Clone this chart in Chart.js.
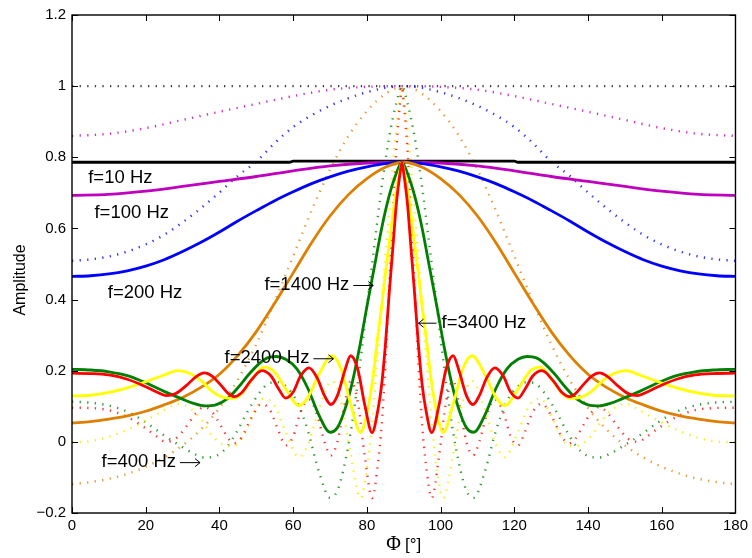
<!DOCTYPE html>
<html>
<head>
<meta charset="utf-8">
<script src="https://cdn.jsdelivr.net/npm/chart.js@4/dist/chart.umd.min.js"></script>
<style>
  html, body { margin: 0; padding: 0; background: #fff; }
</style>
</head>
<body>
<canvas id="chart" width="752" height="558"></canvas>
<script>
// Amplitude vs angle Phi, solid = one model, dotted = the other, per frequency

var xTicks = [0, 20, 40, 60, 80, 100, 120, 140, 160, 180];
var xTickLabels = ['0', '20', '40', '60', '80', '100', '120', '140', '160', '180'];
var yTicks = [-0.2, 0, 0.2, 0.4, 0.6, 0.8, 1, 1.2];
var yTickLabels = ['\u22120.2', '0', '0.2', '0.4', '0.6', '0.8', '1', '1.2'];

// f = 10 Hz
var x10 = [0, 59, 60, 120, 121, 180];
var solid10 = [0.786, 0.786, 0.789, 0.789, 0.786, 0.786];
var dotted10 = [1, 1, 1, 1, 1, 1];

// f = 100 Hz
var x100 = [0, 10, 20, 30, 40, 50, 60, 70, 80, 90, 100, 110, 120, 130, 140, 150, 160, 170, 180];
var solid100 = [0.693, 0.696, 0.705, 0.718, 0.732, 0.746, 0.762, 0.776, 0.784, 0.786,
                0.784, 0.776, 0.762, 0.746, 0.732, 0.718, 0.705, 0.696, 0.693];
var dotted100 = [0.86, 0.866, 0.882, 0.905, 0.928, 0.95, 0.972, 0.99, 0.998, 1.0,
                 0.998, 0.99, 0.972, 0.95, 0.928, 0.905, 0.882, 0.866, 0.86];

// f = 200 Hz
var x200 = [0, 5, 10, 15, 20, 25, 30, 35, 40, 45, 50, 55, 60, 65, 70, 75, 80, 85, 90,
            95, 100, 105, 110, 115, 120, 125, 130, 135, 140, 145, 150, 155, 160, 165, 170, 175, 180];
var solid200 = [0.465, 0.467, 0.472, 0.481, 0.494, 0.512, 0.535, 0.561, 0.59, 0.621, 0.65, 0.678, 0.703, 0.726, 0.745, 0.761, 0.773, 0.782, 0.786,
                0.782, 0.773, 0.761, 0.745, 0.726, 0.703, 0.678, 0.65, 0.621, 0.59, 0.561, 0.535, 0.512, 0.494, 0.481, 0.472, 0.467, 0.465];
var dotted200 = [0.509, 0.513, 0.521, 0.535, 0.555, 0.582, 0.617, 0.657, 0.701, 0.748, 0.788, 0.84, 0.885, 0.918, 0.945, 0.966, 0.983, 0.995, 1.0,
                 0.995, 0.983, 0.966, 0.945, 0.918, 0.885, 0.84, 0.788, 0.748, 0.701, 0.657, 0.617, 0.582, 0.555, 0.535, 0.521, 0.513, 0.509];

// f = 400 Hz
var x400 = x200.slice();
var solid400 = [0.053, 0.057, 0.064, 0.073, 0.086, 0.104, 0.125, 0.153, 0.19, 0.243, 0.31, 0.39, 0.475, 0.56, 0.635, 0.695, 0.74, 0.772, 0.786,
                0.772, 0.74, 0.695, 0.635, 0.56, 0.475, 0.39, 0.31, 0.243, 0.19, 0.153, 0.125, 0.104, 0.086, 0.073, 0.064, 0.057, 0.053];
var dotted400 = [-0.119, -0.113, -0.104, -0.09, -0.07, -0.044, -0.01, 0.035, 0.095, 0.175, 0.275, 0.395, 0.522, 0.65, 0.765, 0.86, 0.93, 0.978, 1.0,
                 0.978, 0.93, 0.86, 0.765, 0.65, 0.522, 0.395, 0.275, 0.175, 0.095, 0.035, -0.01, -0.044, -0.07, -0.09, -0.104, -0.113, -0.119];

// f = 1400 Hz
var x1400 = [0, 5, 10, 15, 20, 25, 30, 33, 36, 39, 42, 45, 48, 51, 53, 55.5, 58, 61, 64, 67, 70, 72, 74, 76, 78, 80, 82, 84, 86, 88, 89.5,
             91, 93, 95, 97, 99, 101, 103, 105, 107, 109, 112, 115, 118, 121, 123.5, 126, 128, 131, 134, 137, 140, 143, 146, 149, 154, 159, 164, 169, 174, 180];
var solid1400 = [0.204, 0.202, 0.197, 0.186, 0.166, 0.142, 0.12, 0.108, 0.101, 0.104, 0.12, 0.152, 0.19, 0.222, 0.236, 0.24, 0.232, 0.205, 0.15, 0.075, 0.027, 0.04, 0.09, 0.165, 0.265, 0.38, 0.49, 0.6, 0.69, 0.755, 0.786,
                 0.755, 0.69, 0.6, 0.49, 0.38, 0.265, 0.165, 0.09, 0.04, 0.027, 0.075, 0.15, 0.205, 0.232, 0.24, 0.236, 0.222, 0.19, 0.152, 0.12, 0.104, 0.101, 0.108, 0.12, 0.142, 0.166, 0.186, 0.197, 0.202, 0.204];
var dotted1400 = [0.113, 0.11, 0.102, 0.085, 0.055, 0.018, -0.015, -0.033, -0.044, -0.04, -0.015, 0.034, 0.092, 0.14, 0.162, 0.168, 0.156, 0.114, 0.031, -0.084, -0.157, -0.137, -0.061, 0.053, 0.206, 0.381, 0.549, 0.716, 0.854, 0.953, 1.0,
                  0.953, 0.854, 0.716, 0.549, 0.381, 0.206, 0.053, -0.061, -0.137, -0.157, -0.084, 0.031, 0.114, 0.156, 0.168, 0.162, 0.14, 0.092, 0.034, -0.015, -0.04, -0.044, -0.033, -0.015, 0.018, 0.055, 0.085, 0.102, 0.11, 0.113];

// f = 2400 Hz
var x2400 = [0, 5, 10, 15, 20, 25, 28.7, 32, 35, 38, 41, 43.6, 46, 49, 52, 55, 58, 61.6, 64, 67, 70.5, 73, 75.5, 78.3, 80, 81.5, 83, 84, 85, 86, 87, 88, 89, 89.5,
             90, 91, 92, 93, 94, 95, 96, 97.5, 99, 100.7, 103.5, 106, 108.5, 112, 115, 117.4, 121, 124, 127, 130, 133, 135.4, 138, 141, 144, 147, 150.3, 154, 159, 164, 169, 174, 180];
var solid2400 = [0.129, 0.131, 0.139, 0.152, 0.169, 0.188, 0.2, 0.192, 0.172, 0.142, 0.125, 0.122, 0.135, 0.178, 0.21, 0.196, 0.148, 0.102, 0.125, 0.19, 0.242, 0.205, 0.11, 0.026, 0.08, 0.17, 0.3, 0.38, 0.47, 0.55, 0.635, 0.71, 0.765, 0.786,
                 0.765, 0.71, 0.635, 0.55, 0.47, 0.38, 0.3, 0.17, 0.08, 0.026, 0.11, 0.205, 0.242, 0.19, 0.125, 0.102, 0.148, 0.196, 0.21, 0.178, 0.135, 0.122, 0.125, 0.142, 0.172, 0.192, 0.2, 0.188, 0.169, 0.152, 0.139, 0.131, 0.129];
var dotted2400 = [-0.001, 0.002, 0.014, 0.034, 0.06, 0.089, 0.107, 0.095, 0.064, 0.018, -0.008, -0.012, 0.008, 0.073, 0.122, 0.101, 0.028, -0.043, -0.008, 0.092, 0.171, 0.114, -0.03, -0.158, -0.076, 0.061, 0.259, 0.381, 0.518, 0.64, 0.77, 0.884, 0.968, 1.0,
                  0.968, 0.884, 0.77, 0.64, 0.518, 0.381, 0.259, 0.061, -0.076, -0.158, -0.03, 0.114, 0.171, 0.092, -0.008, -0.043, 0.028, 0.101, 0.122, 0.073, 0.008, -0.012, -0.008, 0.018, 0.064, 0.095, 0.107, 0.089, 0.06, 0.034, 0.014, 0.002, -0.001];

// f = 3400 Hz
var x3400 = [0, 5, 10, 15, 20, 23, 25.5, 28, 31, 33.5, 35.9, 38, 40.5, 42.5, 44, 46, 48.5, 51.5, 54, 56, 58, 60, 62, 64.3, 66.5, 68.5, 70.2, 72, 74, 75.6, 77.5, 79.5, 81.4, 83, 84, 85, 86, 87, 88, 89, 89.5,
             90, 91, 92, 93, 94, 95, 96, 97.6, 99.5, 101.5, 103.4, 105, 107, 108.8, 110.5, 112.5, 114.7, 117, 119, 121, 123, 125, 127.5, 130.5, 133, 135, 136.5, 138.5, 141, 143.1, 145.5, 148, 151, 153.5, 156, 159, 164, 169, 174, 180];
var solid3400 = [0.193, 0.192, 0.188, 0.176, 0.155, 0.14, 0.13, 0.135, 0.158, 0.182, 0.194, 0.185, 0.158, 0.135, 0.127, 0.138, 0.172, 0.2, 0.185, 0.15, 0.123, 0.14, 0.185, 0.208, 0.18, 0.13, 0.105, 0.13, 0.2, 0.242, 0.205, 0.1, 0.026, 0.09, 0.16, 0.27, 0.41, 0.54, 0.67, 0.755, 0.786,
                 0.755, 0.67, 0.54, 0.41, 0.27, 0.16, 0.09, 0.026, 0.1, 0.205, 0.242, 0.2, 0.13, 0.105, 0.13, 0.18, 0.208, 0.185, 0.14, 0.123, 0.15, 0.185, 0.2, 0.172, 0.138, 0.127, 0.135, 0.158, 0.185, 0.194, 0.182, 0.158, 0.135, 0.13, 0.14, 0.155, 0.176, 0.188, 0.192, 0.193];
var dotted3400 = [0.096, 0.095, 0.089, 0.07, 0.038, 0.015, 0.0, 0.008, 0.043, 0.079, 0.098, 0.084, 0.043, 0.008, -0.004, 0.012, 0.064, 0.107, 0.084, 0.031, -0.01, 0.015, 0.084, 0.119, 0.076, 0.0, -0.038, 0.0, 0.107, 0.171, 0.114, -0.046, -0.158, -0.061, 0.046, 0.213, 0.427, 0.625, 0.823, 0.953, 1.0,
                  0.953, 0.823, 0.625, 0.427, 0.213, 0.046, -0.061, -0.158, -0.046, 0.114, 0.171, 0.107, 0.0, -0.038, 0.0, 0.076, 0.119, 0.084, 0.015, -0.01, 0.031, 0.084, 0.107, 0.064, 0.012, -0.004, 0.008, 0.043, 0.084, 0.098, 0.079, 0.043, 0.008, 0.0, 0.015, 0.038, 0.07, 0.089, 0.095, 0.096];

// in-plot labels (text, x in degrees, y in amplitude, arrow side)
var noteText = ['f=10 Hz', 'f=100 Hz', 'f=200 Hz', 'f=1400 Hz', 'f=2400 Hz', 'f=400 Hz', 'f=3400 Hz'];
var noteX = [4.4, 6.1, 9.7, 52.2, 41.4, 8.0, 94.0];
var noteY = [0.742, 0.645, 0.418, 0.441, 0.235, -0.057, 0.335];
var noteArrow = ['', '', '', 'right', 'right', 'right', 'left'];

function pts(xs, ys) {
  return xs.map(function (x, i) { return { x: x, y: ys[i] }; });
}

function solid(label, xs, ys, color) {
  return { label: label, data: pts(xs, ys), borderColor: color, borderWidth: 2.8,
           pointRadius: 0, fill: false, cubicInterpolationMode: 'monotone' };
}
function dotted(label, xs, ys, color) {
  return { label: label, data: pts(xs, ys), borderColor: color, borderWidth: 2.4,
           borderDash: [1.3, 6.3], borderCapStyle: 'butt',
           pointRadius: 0, fill: false, cubicInterpolationMode: 'monotone' };
}

// first in list is drawn on top
var datasets = [
  solid('3400', x3400, solid3400, '#ff0000'),
  solid('2400', x2400, solid2400, '#ffff00'),
  solid('1400', x1400, solid1400, '#007f00'),
  solid('400', x400, solid400, '#de7f00'),
  solid('200', x200, solid200, '#0000ff'),
  solid('100', x100, solid100, '#bf00bf'),
  solid('10', x10, solid10, '#000000'),
  dotted('3400d', x3400, dotted3400, 'rgba(255,0,0,0.8)'),
  dotted('2400d', x2400, dotted2400, 'rgba(240,240,0,0.9)'),
  dotted('1400d', x1400, dotted1400, 'rgba(0,127,0,0.8)'),
  dotted('400d', x400, dotted400, 'rgba(222,127,0,0.8)'),
  dotted('200d', x200, dotted200, 'rgba(0,0,255,0.8)'),
  dotted('100d', x100, dotted100, 'rgba(191,0,191,0.8)'),
  dotted('10d', x10, dotted10, 'rgba(0,0,0,0.75)')
];

var SANS = '"Liberation Sans", Arial, Helvetica, sans-serif';

var matlabAxes = {
  id: 'matlabAxes',
  afterDatasetsDraw: function (chart) {
    var ctx = chart.ctx, a = chart.chartArea;
    var xs = chart.scales.x, ys = chart.scales.y;
    ctx.save();
    ctx.strokeStyle = '#000';
    ctx.lineWidth = 1.4;
    ctx.strokeRect(a.left, a.top, a.right - a.left, a.bottom - a.top);
    ctx.lineWidth = 1;
    ctx.beginPath();
    xTicks.forEach(function (v) {
      var px = Math.round(xs.getPixelForValue(v)) + 0.5;
      ctx.moveTo(px, a.bottom); ctx.lineTo(px, a.bottom - 6);
      ctx.moveTo(px, a.top); ctx.lineTo(px, a.top + 6);
    });
    yTicks.forEach(function (v) {
      var py = Math.round(ys.getPixelForValue(v)) + 0.5;
      ctx.moveTo(a.left, py); ctx.lineTo(a.left + 6, py);
      ctx.moveTo(a.right, py); ctx.lineTo(a.right - 6, py);
    });
    ctx.stroke();

    // labels inside the plot
    ctx.fillStyle = '#000';
    ctx.font = '18.5px ' + SANS;
    ctx.textBaseline = 'middle';
    ctx.textAlign = 'left';
    for (var i = 0; i < noteText.length; i++) {
      var tx = xs.getPixelForValue(noteX[i]);
      var ty = ys.getPixelForValue(noteY[i]);
      if (noteArrow[i] === 'left') {
        drawArrow(ctx, tx + 18, tx, ty);
        ctx.fillText(noteText[i], tx + 23, ty);
      } else {
        ctx.fillText(noteText[i], tx, ty);
        if (noteArrow[i] === 'right') {
          var w = ctx.measureText(noteText[i]).width;
          drawArrow(ctx, tx + w + 4, tx + w + 24, ty);
        }
      }
    }

    // axis titles
    ctx.font = '16px ' + SANS;
    ctx.textAlign = 'center';
    ctx.save();
    ctx.translate(21, 280);
    ctx.rotate(-Math.PI / 2);
    ctx.fillText('Amplitude', 0, 0);
    ctx.restore();

    var cx = (a.left + a.right) / 2;
    ctx.textAlign = 'left';
    ctx.font = '20px "Liberation Serif", "Times New Roman", serif';
    var wPhi = ctx.measureText('\u03A6').width;
    ctx.font = '17px ' + SANS;
    var wDeg = ctx.measureText('[\u00B0]').width;
    var start = cx - (wPhi + 4 + wDeg) / 2;
    ctx.font = '20px "Liberation Serif", "Times New Roman", serif';
    ctx.fillText('\u03A6', start, 545);
    ctx.font = '17px ' + SANS;
    ctx.fillText('[\u00B0]', start + wPhi + 4, 545);
    ctx.restore();
  }
};

function drawArrow(ctx, x0, x1, y) {
  var dir = x1 > x0 ? 1 : -1;
  ctx.save();
  ctx.strokeStyle = '#000';
  ctx.lineWidth = 1;
  ctx.beginPath();
  ctx.moveTo(x0, y + 0.5); ctx.lineTo(x1, y + 0.5);
  ctx.moveTo(x1 - dir * 5, y - 3.5); ctx.lineTo(x1, y + 0.5); ctx.lineTo(x1 - dir * 5, y + 4.5);
  ctx.stroke();
  ctx.restore();
}

Chart.defaults.font.family = SANS;
Chart.defaults.color = '#000';

new Chart(document.getElementById('chart').getContext('2d'), {
  type: 'line',
  data: { datasets: datasets },
  options: {
    responsive: false,
    animation: false,
    devicePixelRatio: 1,
    layout: { padding: { top: 15, right: 14, left: 0, bottom: 0 } },
    plugins: { legend: { display: false }, tooltip: { enabled: false } },
    elements: { line: { tension: 0 } },
    scales: {
      x: {
        type: 'linear', min: 0, max: 180,
        grid: { display: false, drawTicks: false },
        border: { display: false },
        afterBuildTicks: function (s) { s.ticks = xTicks.map(function (v) { return { value: v }; }); },
        afterFit: function (s) { s.height = 45; },
        ticks: {
          autoSkip: false, maxRotation: 0, padding: 4,
          font: { size: 15 }, color: '#000',
          callback: function (v, i) { return xTickLabels[i]; }
        }
      },
      y: {
        type: 'linear', min: -0.2, max: 1.2,
        grid: { display: false, drawTicks: false },
        border: { display: false },
        afterBuildTicks: function (s) { s.ticks = yTicks.map(function (v) { return { value: v }; }); },
        afterFit: function (s) { s.width = 72; },
        ticks: {
          autoSkip: false, padding: 6,
          font: { size: 15 }, color: '#000',
          callback: function (v, i) { return yTickLabels[i]; }
        }
      }
    }
  },
  plugins: [matlabAxes]
});
</script>
</body>
</html>
